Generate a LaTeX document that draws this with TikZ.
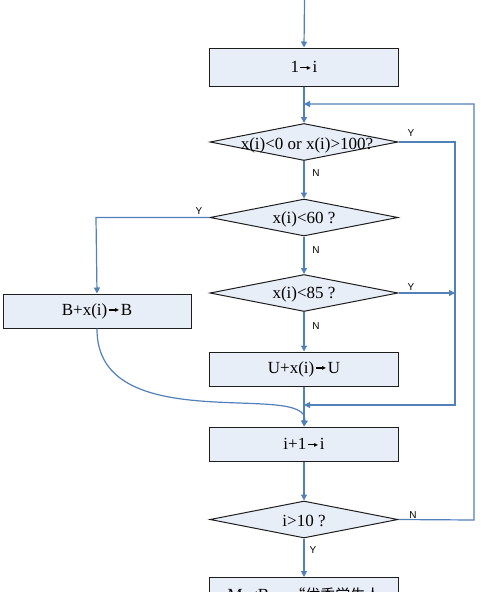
\documentclass[tikz,border=0pt]{standalone}
\usepackage{fontspec}
\setmainfont{Liberation Serif}
\newfontfamily\lblfont{Liberation Sans}
\newfontfamily\symfont{DejaVu Sans}
\newfontfamily\cjkfont{Noto Sans CJK SC}
\usetikzlibrary{shapes.geometric,arrows.meta}
\definecolor{linecol}{RGB}{82,128,186}
\definecolor{boxfill}{RGB}{232,238,248}
\definecolor{boxdraw}{RGB}{30,30,30}
\newcommand{\sarr}{\kern0.08em\rule[0.26em]{0.5em}{0.07em}\kern-0.12em\raisebox{0.135em}{\symfont\fontsize{8}{8}\selectfont ▸}\kern0.1em}
\tikzset{
  procbox/.style={draw=boxdraw,fill=boxfill,line width=1pt,rectangle,minimum width=189pt,minimum height=34pt,inner sep=0pt,font=\fontsize{17}{19}\selectfont},
  decbox/.style={draw=boxdraw,fill=boxfill,line width=1pt,diamond,minimum width=188pt,minimum height=37pt,inner sep=0pt,shape aspect=5},
  dectext/.style={font=\fontsize{17}{19}\selectfont,inner sep=0pt},
  conn/.style={draw=linecol,line width=1.2pt,-{Triangle[length=6pt,width=6pt]}},
  yn/.style={font=\lblfont\fontsize{10}{10}\selectfont,inner sep=0pt}
}
\begin{document}
\begin{tikzpicture}[x=1pt,y=-1pt]
\useasboundingbox (0,0) rectangle (485,592);
\fill[white] (0,0) rectangle (485,592);
\clip (0,0) rectangle (485,592);
% nodes
\coordinate (start) at (304.5,0);
\node[procbox,minimum height=38pt] (b1) at (304,67) {1\sarr i};
\node[decbox] (d1) at (304,142) {};
\node[dectext] (t1) at (307,145) {x(i)<0 or x(i)>100?};
\node[decbox] (d2) at (304,217.5) {};
\node[dectext] (t2) at (304,219) {x(i)<60 ?};
\node[decbox] (d3) at (304,293) {};
\node[dectext] (t3) at (304,294.5) {x(i)<85 ?};
\node[procbox,minimum width=188pt] (bB) at (97,311) {B+x(i)\sarr B};
\node[procbox] (bU) at (304,369) {U+x(i)\sarr U};
\node[procbox] (bI) at (304,444) {i+1\sarr i};
\node[decbox] (d4) at (304,519.5) {};
\node[dectext] (t4) at (304,521) {i>10 ?};
\node[procbox,minimum height=38pt,anchor=north] (bM) at (304,577) {};
\node[inner sep=0pt,font=\fontsize{17}{19}\selectfont,anchor=base] (tM) at (304,600) {MsgBox {\cjkfont\fontsize{15}{17}\selectfont “优秀学生人}};
% helper coordinates
\coordinate (loopIn) at (304,104);
\coordinate (joinIn) at (304,405);
\coordinate (rY) at (455,142);
\coordinate (rYb) at (455,405);
\coordinate (rN) at (474,520);
\coordinate (rNt) at (474,104);
\coordinate (lY) at (96,217.5);
\coordinate (y3end) at (455,293);
% connectors
\draw[conn] (start) -- (b1.north);
\draw[conn] (b1.south) -- (d1.north);
\draw[conn] (d1.south) -- (d2.north);
\draw[conn] (d2.south) -- (d3.north);
\draw[conn] (d3.south) -- (bU.north);
\draw[conn] (bU.south) -- (bI.north);
\draw[conn] (bI.south) -- (d4.north);
\draw[conn] (d4.south) -- (bM.north);
\draw[conn] (d1.east) -- (rY) -- (rYb) -- (joinIn);
\draw[conn] (d4.east) -- (rN) -- (rNt) -- (loopIn);
\draw[conn] (d2.west) -- (lY) -- (bB.north);
\draw[conn] (d3.east) -- (y3end);
\draw[conn] (bB.south) .. controls (96,440) and (310,380) .. (bI.north);
% labels
\node[yn] (l1) at (411,133) {Y};
\node[yn] (l2) at (316,173) {N};
\node[yn] (l3) at (199,211) {Y};
\node[yn] (l4) at (316,250) {N};
\node[yn] (l5) at (411,287) {Y};
\node[yn] (l6) at (316,326) {N};
\node[yn] (l7) at (413,515) {N};
\node[yn] (l8) at (313,550) {Y};
\end{tikzpicture}
\end{document}
